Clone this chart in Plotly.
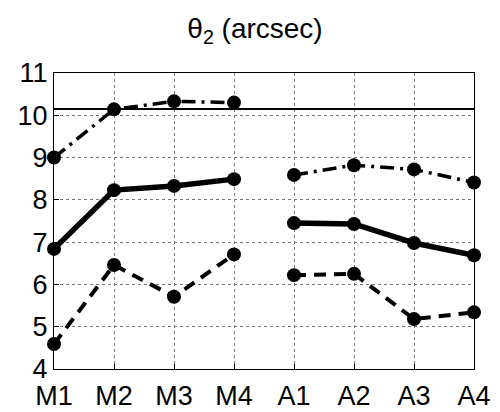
import plotly.graph_objects as go

categories = ["M1", "M2", "M3", "M4", "A1", "A2", "A3", "A4"]
upper = [9.0, 10.14, 10.33, 10.3, 8.59, 8.82, 8.72, 8.41]
middle = [6.84, 8.23, 8.33, 8.49, 7.45, 7.43, 6.98, 6.69]
lower = [4.59, 6.46, 5.71, 6.71, 6.22, 6.25, 5.18, 5.34]
reference_level = 10.15
yticks = [4, 5, 6, 7, 8, 9, 10, 11]

fig = go.Figure()
styles = [(upper, "14px,6px,3px,6px", 3.5), (middle, "solid", 5.5), (lower, "12px,8px", 4)]
for vals, dash, w in styles:
    for seg in (slice(0, 4), slice(4, 8)):
        fig.add_trace(go.Scatter(
            x=categories[seg], y=vals[seg], mode="lines+markers",
            line=dict(color="black", width=w, dash=dash),
            marker=dict(color="black", size=14, symbol="circle"),
            showlegend=False, cliponaxis=False))

fig.add_shape(type="line", xref="paper", yref="y", x0=0, x1=1,
              y0=reference_level, y1=reference_level,
              line=dict(color="black", width=2))

fig.update_layout(
    width=500, height=412,
    margin=dict(l=54, r=26, t=73, b=43),
    paper_bgcolor="white", plot_bgcolor="white",
    font=dict(family="Liberation Sans, Arial, sans-serif", color="black", size=27),
    title=dict(text="θ<sub>2</sub> (arcsec)", x=0.51, xanchor="center",
               y=1 - 28 / 412, yanchor="middle",
               font=dict(size=28)),
)
grid = dict(showgrid=True, gridcolor="#777", griddash="dot", gridwidth=1,
            showline=True, linecolor="black", linewidth=1, mirror=True,
            ticks="inside", ticklen=5, tickcolor="black", zeroline=False,
            automargin=False)
fig.update_xaxes(type="category", categoryorder="array", categoryarray=categories,
                 range=[0, 7], ticklabelstandoff=3, **grid)
fig.update_yaxes(range=[4, 11], tickvals=yticks,
                 ticktext=[str(v) for v in yticks], **grid)

fig.write_html("out.html")
